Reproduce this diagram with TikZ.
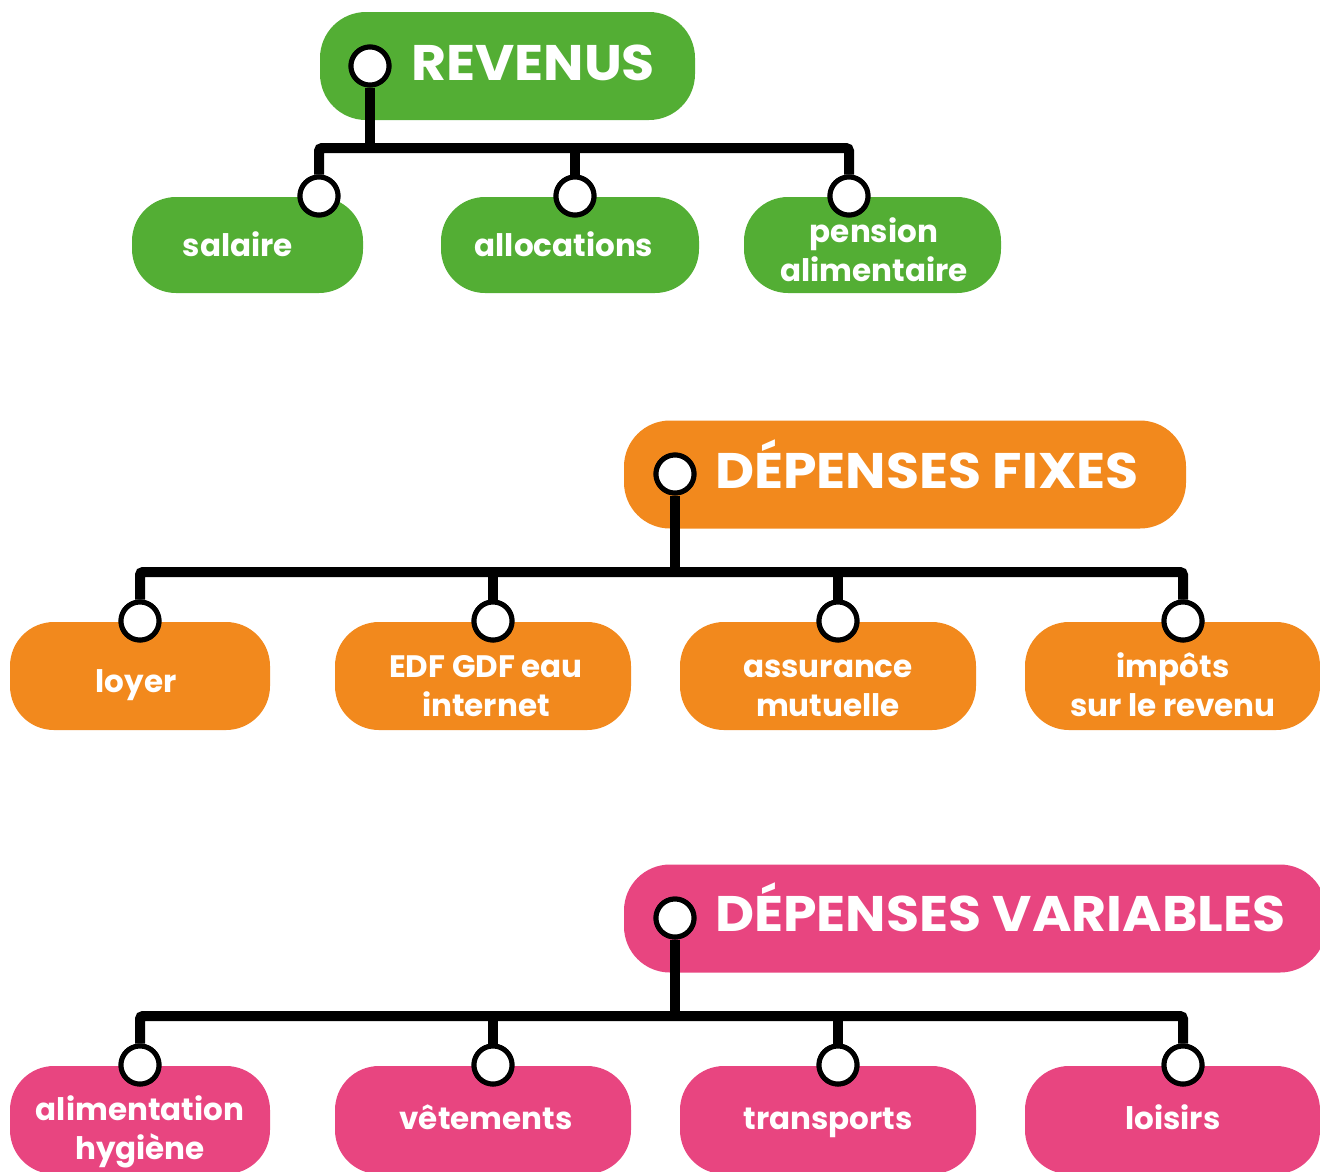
\documentclass[tikz,border=0pt]{standalone}
\usepackage{fontspec}
\usepackage{graphicx}
\setmainfont{Poppins}
\definecolor{cgreen}{HTML}{53AE34}
\definecolor{corange}{HTML}{F2891D}
\definecolor{cpink}{HTML}{E84580}
\newcommand{\hdtext}[1]{\scalebox{1.075}[1]{#1}}
\tikzset{
  hbox/.style={rectangle, rounded corners=46pt, minimum height=108pt, inner sep=0pt},
  cbox/.style={rectangle, rounded corners=44pt, inner sep=0pt},
  ctext/.style={anchor=base, inner sep=0pt, text=white, align=center,
    font=\bfseries\fontsize{31}{38.5}\selectfont},
  htext/.style={anchor=base west, inner sep=0pt, text=white, font=\bfseries\fontsize{50}{58}\selectfont},
  dot/.style={circle, draw=black, line width=5pt, fill=white, minimum size=38pt, inner sep=0pt},
  tree/.style={draw=black, line width=10pt, rounded corners=3pt}
}
\begin{document}
\begin{tikzpicture}[x=1pt,y=-1pt]
\useasboundingbox (0,0) rectangle (1320,1171);
\clip (0,0) rectangle (1320,1171);
% ---------- REVENUS ----------
\node[hbox, fill=cgreen, minimum width=375pt] (rev) at (507.5,66) {};
\node[cbox, fill=cgreen, minimum width=231pt, minimum height=96pt] (sal) at (247.5,245) {};
\node[cbox, fill=cgreen, minimum width=258pt, minimum height=96pt] (all) at (570,245) {};
\node[cbox, fill=cgreen, minimum width=257pt, minimum height=96pt] (pen) at (872.5,245) {};
\node[htext] (revt) at (411,80) {\hdtext{REVENUS}};
\node[ctext] (salt) at (238,256) {salaire};
\node[ctext] (allt) at (564,256) {allocations};
\node[ctext] (pent) at (874,281) {pension\\alimentaire};
\coordinate (gbar) at (0,148);
\node[dot] (r0) at (370,66) {};
\node[dot] (r1) at (319,196) {};
\node[dot] (r2) at (575,196) {};
\node[dot] (r3) at (849,196) {};
\draw[tree] (r1.north) -- (r1.north |- gbar) -- (r3.north |- gbar) -- (r3.north);
\draw[tree] (r0.south) -- (r0.south |- gbar);
\draw[tree] (r2.north) -- (r2.north |- gbar);
\node[dot] at (r0) {};
\node[dot] at (r1) {};
\node[dot] at (r2) {};
\node[dot] at (r3) {};
% ---------- DEPENSES FIXES ----------
\node[hbox, fill=corange, minimum width=562pt] (fix) at (905,474.5) {};
\node[cbox, fill=corange, minimum width=260pt, minimum height=108pt] (loy) at (140,676) {};
\node[cbox, fill=corange, minimum width=296pt, minimum height=108pt] (edf) at (483,676) {};
\node[cbox, fill=corange, minimum width=296pt, minimum height=108pt] (ass) at (828,676) {};
\node[cbox, fill=corange, minimum width=295pt, minimum height=108pt] (imp) at (1172.5,676) {};
\node[htext] (fixt) at (715,488) {\hdtext{DÉPENSES FIXES}};
\node[ctext] (loyt) at (136,692) {loyer};
\node[ctext] (edft) at (486,716) {EDF GDF eau\\internet};
\node[ctext] (asst) at (828,716) {assurance\\mutuelle};
\node[ctext] (impt) at (1173,716) {impôts\\sur le revenu};
\coordinate (obar) at (0,572);
\node[dot] (f0) at (675,474) {};
\node[dot] (f1) at (140,621) {};
\node[dot] (f2) at (493,621) {};
\node[dot] (f3) at (838,621) {};
\node[dot] (f4) at (1183,621) {};
\draw[tree] (f1.north) -- (f1.north |- obar) -- (f4.north |- obar) -- (f4.north);
\draw[tree] (f0.south) -- (f0.south |- obar);
\draw[tree] (f2.north) -- (f2.north |- obar);
\draw[tree] (f3.north) -- (f3.north |- obar);
\node[dot] at (f0) {};
\node[dot] at (f1) {};
\node[dot] at (f2) {};
\node[dot] at (f3) {};
\node[dot] at (f4) {};
% ---------- DEPENSES VARIABLES ----------
\node[hbox, fill=cpink, minimum width=702pt] (var) at (975,918.5) {};
\node[cbox, fill=cpink, minimum width=260pt, minimum height=108pt] (ali) at (140,1120) {};
\node[cbox, fill=cpink, minimum width=296pt, minimum height=108pt] (vet) at (483,1120) {};
\node[cbox, fill=cpink, minimum width=296pt, minimum height=108pt] (tra) at (828,1120) {};
\node[cbox, fill=cpink, minimum width=295pt, minimum height=108pt] (loi) at (1172.5,1120) {};
\node[htext] (vart) at (715,931) {\hdtext{DÉPENSES VARIABLES}};
\node[ctext] (alit) at (140,1159) {alimentation\\hygiène};
\node[ctext] (vett) at (486,1129) {vêtements};
\node[ctext] (trat) at (828,1129) {transports};
\node[ctext] (loit) at (1173,1129) {loisirs};
\coordinate (pbar) at (0,1016);
\node[dot] (v0) at (675,918) {};
\node[dot] (v1) at (140,1065) {};
\node[dot] (v2) at (493,1065) {};
\node[dot] (v3) at (838,1065) {};
\node[dot] (v4) at (1183,1065) {};
\draw[tree] (v1.north) -- (v1.north |- pbar) -- (v4.north |- pbar) -- (v4.north);
\draw[tree] (v0.south) -- (v0.south |- pbar);
\draw[tree] (v2.north) -- (v2.north |- pbar);
\draw[tree] (v3.north) -- (v3.north |- pbar);
\node[dot] at (v0) {};
\node[dot] at (v1) {};
\node[dot] at (v2) {};
\node[dot] at (v3) {};
\node[dot] at (v4) {};
\end{tikzpicture}
\end{document}
